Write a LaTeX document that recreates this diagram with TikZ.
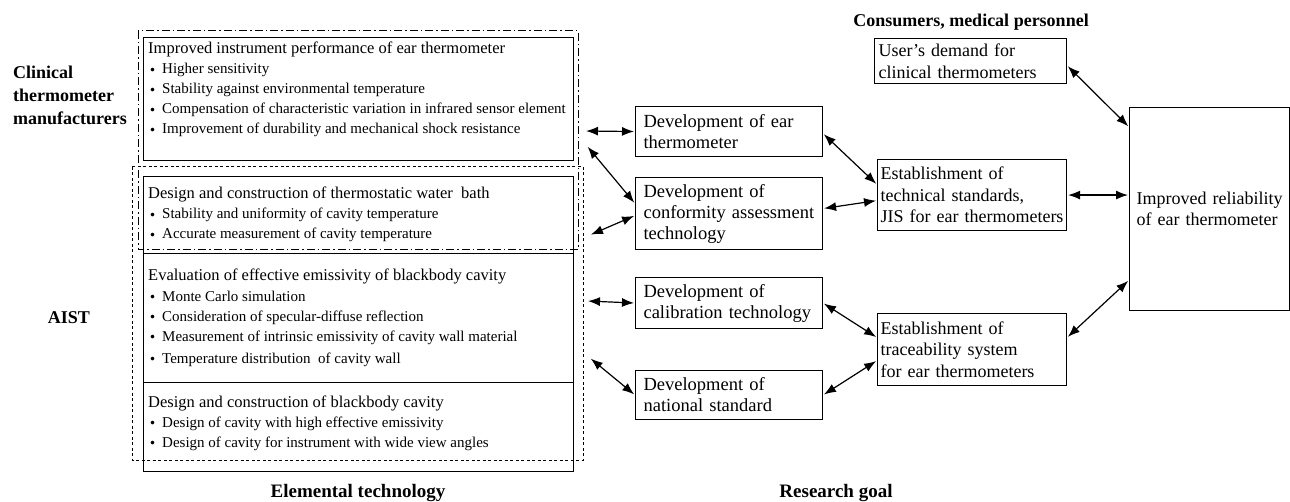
\documentclass[tikz,border=0pt]{standalone}
\usepackage{fontspec}
\setmainfont{Liberation Serif}
\newfontfamily\jpfont{Noto Sans CJK JP}
\newcommand{\bul}[1]{\makebox[14pt][l]{\hspace{-4pt}\raisebox{-2.5pt}{\jpfont\fontsize{17}{20}\selectfont ・}}{\fontsize{15}{20}\selectfont #1}}
\usetikzlibrary{arrows.meta}

\begin{document}
\begin{tikzpicture}[x=1pt,y=-1pt,
    every node/.style={inner sep=0pt},
    techbox/.style={draw,line width=1.1pt,anchor=north west,minimum width=430pt},
    techtext/.style={anchor=base west,align=left,font=\fontsize{16.5}{20}\selectfont},
    devbox/.style={draw,line width=1.1pt,anchor=north west,text width=171pt,inner xsep=8pt,align=left,font=\fontsize{18.5}{21}\selectfont},
    goalbox/.style={draw,line width=1.1pt,anchor=north west,text width=183pt,inner xsep=3pt,align=left,font=\fontsize{18}{21.5}\selectfont},
    group/.style={align=left,font=\fontsize{18}{23}\selectfont\bfseries},
    link/.style={{Latex[length=12pt,width=9pt]}-{Latex[length=12pt,width=9pt]},line width=1.2pt,shorten <=1pt,shorten >=1pt}]
\useasboundingbox (0,0) rectangle (1290,502);

\draw[line width=1pt,dash pattern=on 8pt off 3pt on 1.5pt off 3pt] (138,31) rectangle (578,250);
\draw[line width=1pt,dash pattern=on 3pt off 2.5pt] (132,167) rectangle (583,460);

\node[group,anchor=west] (maker) at (13,95) {Clinical\\thermometer\\manufacturers};
\node[group] (aist) at (69,318) {AIST};
\node[group] (users) at (971,22) {Consumers, medical personnel};
\node[group,font=\fontsize{19}{23}\selectfont\bfseries] (elem) at (358,493) {Elemental technology};
\node[group,font=\fontsize{19}{23}\selectfont\bfseries] (goal) at (836,493) {Research goal};

\node[techbox,minimum height=123pt] (perf) at (143,37) {};
\node[techbox,minimum height=77pt] (bath) at (143,176) {};
\node[techbox,minimum height=129pt] (emis) at (143,253) {};
\node[techbox,minimum height=89pt] (cav) at (143,382) {};
% text nodes sit on the baseline of their last line
\node[techtext] (perftext) at (148,134) {Improved instrument performance of ear thermometer\\
  \bul{Higher sensitivity}\\
  \bul{Stability against environmental temperature}\\
  \bul{Compensation of characteristic variation in infrared sensor element}\\
  \bul{Improvement of durability and mechanical shock resistance}};
\node[techtext] (bathtext) at (148,239) {Design and construction of thermostatic water\ \ bath\\
  \bul{Stability and uniformity of cavity temperature}\\
  \bul{Accurate measurement of cavity temperature}};
\node[techtext] (emistext) at (148,363) {Evaluation of effective emissivity of blackbody cavity\\
  \bul{Monte Carlo simulation}\\
  \bul{Consideration of specular-diffuse reflection}\\
  \bul{Measurement of intrinsic emissivity of cavity wall material}\\[2pt]
  \bul{Temperature distribution\ \ of cavity wall}};
\node[techtext] (cavtext) at (148,447) {Design and construction of blackbody cavity\\
  \bul{Design of cavity with high effective emissivity}\\
  \bul{Design of cavity for instrument with wide view angles}};

\node[devbox,minimum height=50pt] (ear) at (635,106) {Development of ear\\thermometer};
\node[devbox,minimum height=72pt] (conf) at (635,177) {Development of\\conformity assessment\\technology};
\node[devbox,minimum height=51pt] (calib) at (635,277) {Development of\\calibration technology};
\node[devbox,minimum height=49pt] (nat) at (635,370) {Development of\\national standard};

\node[goalbox,text width=184pt,inner xsep=4pt,minimum height=45pt] (demand) at (874,38) {User’s demand for\\clinical thermometers};
\node[goalbox,minimum height=71pt] (jis) at (877,159) {Establishment of\\technical standards,\\JIS for ear thermometers};
\node[goalbox,minimum height=72pt] (trace) at (877,313) {Establishment of\\traceability system\\for ear thermometers};
\node[goalbox,text width=146pt,inner xsep=7pt,minimum height=203pt] (rel) at (1129,107) {Improved reliability\\of ear thermometer};

\coordinate (p1) at (585,131);
\coordinate (p2) at (587,146);
\coordinate (p3) at (590,235);
\coordinate (p4) at (587,301);
\coordinate (p5) at (590,358);

\draw[link] (p1) -- (ear.west);
\draw[link] (p2) -- ([yshift=10pt]conf.west);
\draw[link] (p3) -- ([yshift=-2pt]conf.west);
\draw[link] (p4) -- (calib.west);
\draw[link] (p5) -- (nat.west);
\draw[link] ([yshift=-2pt]ear.east) -- ([yshift=10.5pt]jis.west);
\draw[link] ([yshift=5pt]conf.east) -- ([yshift=-5.5pt]jis.west);
\draw[link] (calib.east) -- ([yshift=12pt]trace.west);
\draw[link] (nat.east) -- ([yshift=-11pt]trace.west);
\draw[link] (jis.east) -- (jis.east -| rel.west);
\draw[link] ([yshift=-4.5pt]demand.east) -- ([yshift=-20pt]rel.north west);
\draw[link] ([yshift=12pt]trace.east) -- ([yshift=31pt]rel.south west);
\end{tikzpicture}
\end{document}
